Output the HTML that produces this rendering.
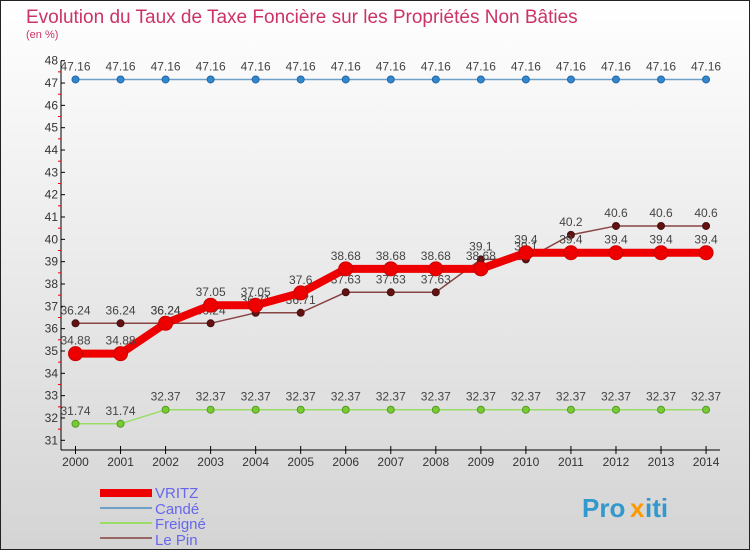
<!DOCTYPE html>
<html><head><meta charset="utf-8"><style>
body{margin:0;width:750px;height:550px;overflow:hidden;font-family:"Liberation Sans",sans-serif}
svg{display:block}
</style></head><body>
<svg id="c" width="750" height="550" font-family="Liberation Sans, sans-serif">
<defs><linearGradient id="bg" x1="0" y1="0" x2="0" y2="1"><stop offset="0" stop-color="#ffffff"/><stop offset="1" stop-color="#d4d4d4"/></linearGradient></defs>
<rect x="0.5" y="0.5" width="749" height="549" fill="url(#bg)" stroke="#222"/>
<text x="26" y="23" font-size="19" fill="#cc3366">Evolution du Taux de Taxe Foncière sur les Propriétés Non Bâties</text>
<text x="26" y="38" font-size="11" fill="#cc3366">(en %)</text>
<g id="axes"></g><g id="series"></g>
<g>
<rect x="100" y="489" width="52" height="8" fill="#e00"/>
<text x="155" y="498" font-size="15" fill="#6666ee">VRITZ</text>
<rect x="100" y="507" width="52" height="2" fill="#6fa0c8"/>
<text x="155" y="514" font-size="15" fill="#6666ee">Candé</text>
<rect x="100" y="522" width="52" height="2" fill="#99dd66"/>
<text x="155" y="529" font-size="15" fill="#6666ee">Freigné</text>
<rect x="100" y="537" width="52" height="2" fill="#996666"/>
<text x="155" y="545" font-size="15" fill="#6666ee">Le Pin</text>
</g>
<g font-size="26" font-weight="bold">
<text x="582" y="517" fill="#3399cc">Pro</text><text x="630" y="517" fill="#ff9900">x</text><text x="645" y="517" fill="#3399cc">iti</text>
</g>
</svg>
<script>
const years=[2000,2001,2002,2003,2004,2005,2006,2007,2008,2009,2010,2011,2012,2013,2014];
const vritz=[34.88,34.88,36.24,37.05,37.05,37.6,38.68,38.68,38.68,38.68,39.4,39.4,39.4,39.4,39.4];
const cande=[47.16,47.16,47.16,47.16,47.16,47.16,47.16,47.16,47.16,47.16,47.16,47.16,47.16,47.16,47.16];
const freigne=[31.74,31.74,32.37,32.37,32.37,32.37,32.37,32.37,32.37,32.37,32.37,32.37,32.37,32.37,32.37];
const lepin=[36.24,36.24,36.24,36.24,36.71,36.71,37.63,37.63,37.63,39.1,39.1,40.2,40.6,40.6,40.6];
const yTicks=[31,32,33,34,35,36,37,38,39,40,41,42,43,44,45,46,47,48];
const NS="http://www.w3.org/2000/svg";
const X=i=>75.5+i*45.04;
const Y=v=>60.7+(48-v)*22.33;
function mk(tag,attrs,parent,txt){const e=document.createElementNS(NS,tag);for(const k in attrs)e.setAttribute(k,attrs[k]);if(txt!==undefined)e.textContent=txt;parent.appendChild(e);return e;}
const ax=document.getElementById('axes');
const yl=mk('line',{x1:61,y1:Y(48),x2:61,y2:450,stroke:'#000'},ax);


const xl=mk('line',{x1:61,y1:450,x2:720,y2:450,stroke:'#000'},ax);


yTicks.forEach(v=>{
  mk('line',{x1:61,y1:Y(v),x2:65,y2:Y(v),stroke:'#000'},ax);
  if(v<48)mk('line',{x1:58,y1:Y(v+0.5),x2:61,y2:Y(v+0.5),stroke:'#e00'},ax);
  const t=mk('text',{x:58,y:Y(v)+4,'font-size':12,'text-anchor':'end',fill:'#333'},ax,String(v));
  
  
});
years.forEach((yr,i)=>{
  mk('line',{x1:X(i),y1:446,x2:X(i),y2:454,stroke:'#000'},ax);
  const t=mk('text',{x:X(i),y:466,'font-size':12,'text-anchor':'middle',fill:'#333'},ax,String(yr));
  
  
});
const sg=document.getElementById('series');
function series(name,data,color,dot,lw,r,dotStroke){
  const g=mk('g',{},sg);
  
  
  const pts=data.map((v,i)=>X(i)+','+Y(v)).join(' ');
  const pl=mk('polyline',{points:pts,fill:'none',stroke:color,'stroke-width':lw},g);
  
  
  data.forEach((v,i)=>{
    const c=mk('circle',{cx:X(i),cy:Y(v),r:r,fill:dot,stroke:dotStroke,'stroke-width':1},g);
    
    
    const t=mk('text',{x:X(i),y:Y(v)-9,'font-size':12,'text-anchor':'middle',fill:'#444'},g,String(v));
    
    
  });
}
series('cande',cande,'#6fa0c8','#3388cc',1.5,3.5,'#2266aa');
series('freigne',freigne,'#99dd66','#77cc33',1.5,3.5,'#559922');
series('le-pin',lepin,'#884444','#661111',1.5,3.5,'#441111');
series('vritz',vritz,'#ee0000','#ee0000',8,7,'#cc0000');
</script>
</body></html>
